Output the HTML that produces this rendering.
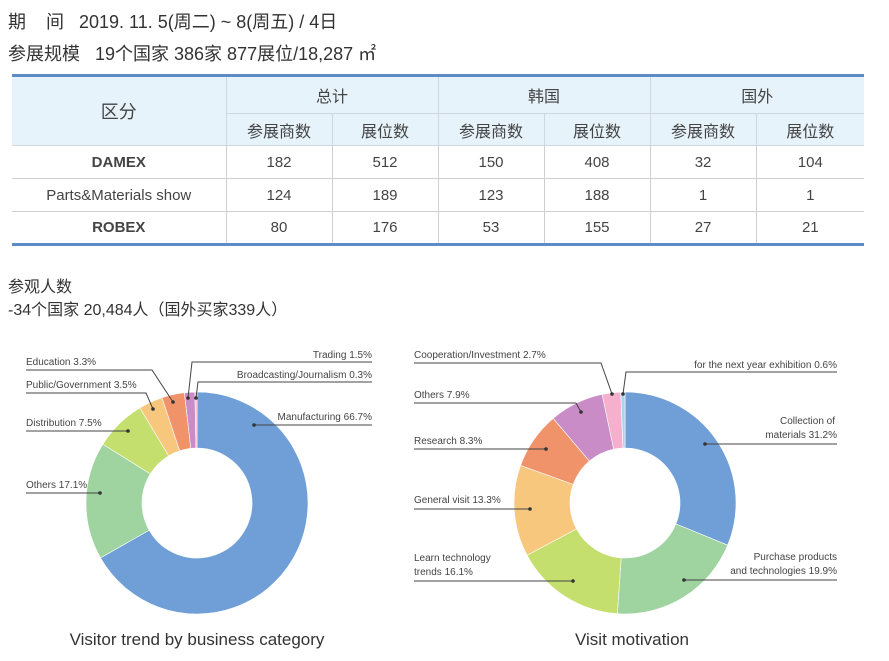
<!DOCTYPE html>
<html><head><meta charset="utf-8">
<style>
body{margin:0;width:889px;height:661px;background:#fff;position:relative;overflow:hidden;font-family:"Liberation Sans","Noto Sans CJK SC",sans-serif;color:#333}
.t{position:absolute;white-space:nowrap}
table{position:absolute;left:12px;top:74px;width:852px;table-layout:fixed;border-collapse:collapse;font-size:15px;color:#444;font-family:"Liberation Sans Narrow","Liberation Sans","Noto Sans CJK SC",sans-serif}
td{border:1px solid #cfcfcf;text-align:center;padding:0}
th{border:1px solid #cfd8de;background:#e6f3fb;font-weight:normal;font-size:16px;color:#444;padding:0}
tr:first-child th{border-top:3px solid #5b8cc8}
tr:last-child td{border-bottom:3px solid #5b8cc8}
table tr>*:first-child{border-left:none}
table tr>*:last-child{border-right:none}
svg text{font-family:"Liberation Sans Narrow","Liberation Sans",sans-serif;font-size:10px;fill:#444}
</style></head><body>
<div class="t" style="left:8px;top:8px;font-size:18px">期&nbsp;&nbsp;&nbsp;&nbsp;间&nbsp;&nbsp;&nbsp;2019. 11. 5(周二) ~ 8(周五) / 4日</div>
<div class="t" style="left:8px;top:40px;font-size:18px">参展规模&nbsp;&nbsp;&nbsp;19个国家 386家 877展位/18,287 ㎡</div>
<table>
<colgroup><col style="width:214px"><col style="width:106px"><col style="width:106px"><col style="width:106px"><col style="width:106px"><col style="width:106px"><col style="width:108px"></colgroup>
<tr style="height:38px"><th rowspan="2" style="font-size:18px">区分</th><th colspan="2">总计</th><th colspan="2">韩国</th><th colspan="2">国外</th></tr>
<tr style="height:32px"><th>参展商数</th><th>展位数</th><th>参展商数</th><th>展位数</th><th>参展商数</th><th>展位数</th></tr>
<tr style="height:33px"><td style="font-weight:bold">DAMEX</td><td>182</td><td>512</td><td>150</td><td>408</td><td>32</td><td>104</td></tr>
<tr style="height:33px"><td>Parts&amp;Materials show</td><td>124</td><td>189</td><td>123</td><td>188</td><td>1</td><td>1</td></tr>
<tr style="height:33px"><td style="font-weight:bold">ROBEX</td><td>80</td><td>176</td><td>53</td><td>155</td><td>27</td><td>21</td></tr>
</table>
<div class="t" style="left:8px;top:273px;font-size:16px">参观人数</div>
<div class="t" style="left:8px;top:296px;font-size:16px">-34个国家 20,484人（国外买家339人）</div>
<svg id="s" width="889" height="661" style="position:absolute;left:0;top:0">
<g id="p"></g>
<g stroke="#444" stroke-width="1" fill="none">
<polyline points="26,370 152,370 173,402"/><polyline points="372,362 192,362 188,398"/><polyline points="372,382 198,382 196,398"/>
<polyline points="26,393 146,393 153,409"/><polyline points="26,431 128,431"/><polyline points="372,425 254,425"/><polyline points="26,493 100,493"/>
<polyline points="414,363 601,363 612,394"/><polyline points="837,372 626,372 623,394"/><polyline points="837,444 705,444"/><polyline points="837,580 684,580"/>
<polyline points="414,403 576,403 581,412"/><polyline points="414,449 546,449"/><polyline points="414,509 530,509"/><polyline points="414,581 573,581"/>
</g>
<g fill="#333">
<circle cx="173" cy="402" r="1.8"/><circle cx="188" cy="398" r="1.8"/><circle cx="196" cy="398" r="1.8"/><circle cx="153" cy="409" r="1.8"/><circle cx="128" cy="431" r="1.8"/><circle cx="254" cy="425" r="1.8"/><circle cx="100" cy="493" r="1.8"/>
<circle cx="612" cy="394" r="1.8"/><circle cx="623" cy="394" r="1.8"/><circle cx="705" cy="444" r="1.8"/><circle cx="684" cy="580" r="1.8"/><circle cx="581" cy="412" r="1.8"/><circle cx="546" cy="449" r="1.8"/><circle cx="530" cy="509" r="1.8"/><circle cx="573" cy="581" r="1.8"/>
</g>
<text x="26" y="365">Education  3.3%</text>
<text x="372" y="358" text-anchor="end">Trading 1.5%</text>
<text x="372" y="378" text-anchor="end">Broadcasting/Journalism 0.3%</text>
<text x="26" y="388">Public/Government 3.5%</text>
<text x="26" y="426">Distribution  7.5%</text>
<text x="372" y="420" text-anchor="end">Manufacturing  66.7%</text>
<text x="26" y="488">Others 17.1%</text>
<text x="414" y="358">Cooperation/Investment 2.7%</text>
<text x="837" y="368" text-anchor="end">for the next year exhibition 0.6%</text>
<text x="835" y="424" text-anchor="end">Collection of</text>
<text x="837" y="438" text-anchor="end">materials 31.2%</text>
<text x="837" y="560" text-anchor="end">Purchase products</text>
<text x="837" y="574" text-anchor="end">and technologies 19.9%</text>
<text x="414" y="398">Others 7.9%</text>
<text x="414" y="444">Research 8.3%</text>
<text x="414" y="503">General visit 13.3%</text>
<text x="414" y="561">Learn technology</text>
<text x="414" y="575">trends 16.1%</text>
<text x="197" y="645" text-anchor="middle" style="font-family:'Liberation Sans',sans-serif;font-size:17px;fill:#333">Visitor trend by business category</text>
<text x="632" y="645" text-anchor="middle" style="font-family:'Liberation Sans',sans-serif;font-size:17px;fill:#333">Visit motivation</text>
</svg>
<script>
function donut(cx,cy,R,r,data){
 var g=document.getElementById('p'),a=0,tot=0;data.forEach(function(d){tot+=d[0]});
 data.forEach(function(d){
  var a1=a+d[0]/tot*2*Math.PI;
  function pt(rad,ang){return (cx+rad*Math.sin(ang)).toFixed(2)+','+(cy-rad*Math.cos(ang)).toFixed(2)}
  var lg=(a1-a)>Math.PI?1:0;
  var p='M'+pt(R,a)+'A'+R+','+R+' 0 '+lg+' 1 '+pt(R,a1)+'L'+pt(r,a1)+'A'+r+','+r+' 0 '+lg+' 0 '+pt(r,a)+'Z';
  var e=document.createElementNS('http://www.w3.org/2000/svg','path');
  e.setAttribute('d',p);e.setAttribute('fill',d[1]);e.setAttribute('stroke','#fff');e.setAttribute('stroke-width','0.6');g.appendChild(e);a=a1;
 });
}
donut(197,503,111,55,[[66.7,'#6f9fd6'],[17.1,'#9fd3a0'],[7.5,'#c4df6e'],[3.5,'#f8c77e'],[3.3,'#f0936b'],[1.5,'#c98cc6'],[0.3,'#f4b0cc']]);
donut(625,503,111,55,[[31.2,'#6f9fd6'],[19.9,'#9fd3a0'],[16.1,'#c4df6e'],[13.3,'#f8c77e'],[8.3,'#f0936b'],[7.9,'#c98cc6'],[2.7,'#f4b0cc'],[0.6,'#a9d4f0']]);
</script>
</body></html>
